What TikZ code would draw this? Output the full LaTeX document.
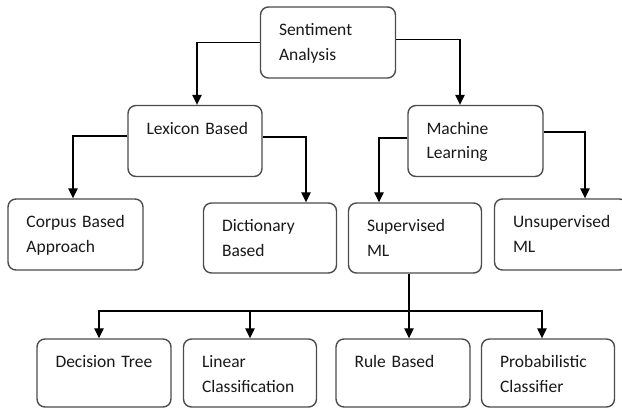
\documentclass[tikz,border=0pt]{standalone}
\usepackage{fontspec}
\setmainfont{Carlito}
\usetikzlibrary{arrows.meta}
\tikzset{
  box/.style={draw=black!70, line width=1.4pt, rounded corners=8pt,
    minimum width=133pt, minimum height=71pt, inner sep=0pt},
  txt/.style={anchor=base west, align=left, text width=118pt, inner sep=0pt,
    xshift=19pt, yshift=-29.5pt, font=\fontsize{17.5}{24.5}\selectfont, text=black!90},
  link/.style={line width=1.2pt, -{Triangle[width=9.5pt,length=10pt]}},
}
\begin{document}
\begin{tikzpicture}[x=1pt,y=-1pt]
\useasboundingbox (0,0) rectangle (622,409);
% root
\node[box, minimum width=135pt, label={[txt]north west:Sentiment\\Analysis}] (sa) at (328,42.5) {};
% approaches
\node[box, minimum width=134pt, label={[txt]north west:Lexicon Based}] (lex) at (195,141) {};
\node[box, minimum width=135pt, label={[txt]north west:Machine\\Learning}] (ml) at (475.5,141) {};
% sub approaches
\node[box, minimum width=135pt, label={[txt]north west:Corpus Based\\Approach}] (corpus) at (75.5,234.5) {};
\node[box, minimum height=70pt, label={[txt]north west:Dictionary\\Based}] (dict) at (270,238) {};
\node[box, minimum height=70pt, label={[txt]north west:Supervised\\ML}] (sup) at (415,238) {};
\node[box, label={[txt]north west:Unsupervised\\ML}] (unsup) at (561,234.5) {};
% classifiers
\node[box, minimum width=134pt, minimum height=68pt, label={[txt]north west:Decision Tree}] (dt) at (104,373) {};
\node[box, minimum height=68pt, label={[txt]north west:Linear\\Classification}] (lin) at (250,373) {};
\node[box, minimum width=134pt, minimum height=68pt, label={[txt]north west:Rule Based}] (rule) at (403,373) {};
\node[box, minimum height=68pt, label={[txt]north west:Probabilistic\\Classifier}] (prob) at (548,373) {};

\draw[link] (sa.west) -| ([xshift=2pt]lex.north);
\draw[link] ([yshift=3pt]sa.east) -| ([xshift=-15.5pt]ml.north);
\draw[link] ([yshift=5pt]lex.west) -| ([xshift=-2.5pt]corpus.north);
\draw[link] ([yshift=4pt]lex.east) -| ([xshift=36pt]dict.north);
\draw[link] ([yshift=3pt]ml.west) -| ([xshift=-36pt]sup.north);
\draw[link] ([yshift=9pt]ml.east) -| ([xshift=24pt]unsup.north);

\coordinate (fork) at (409,311);
\draw[line width=1.2pt] (sup.south -| fork) -- (fork);
\draw[link] (fork) -- (fork |- rule.north);
\foreach \n/\dx in {dt/-5, lin/0, prob/-6}
  \draw[link] (fork) -| ([xshift=\dx pt]\n.north);
\end{tikzpicture}
\end{document}
